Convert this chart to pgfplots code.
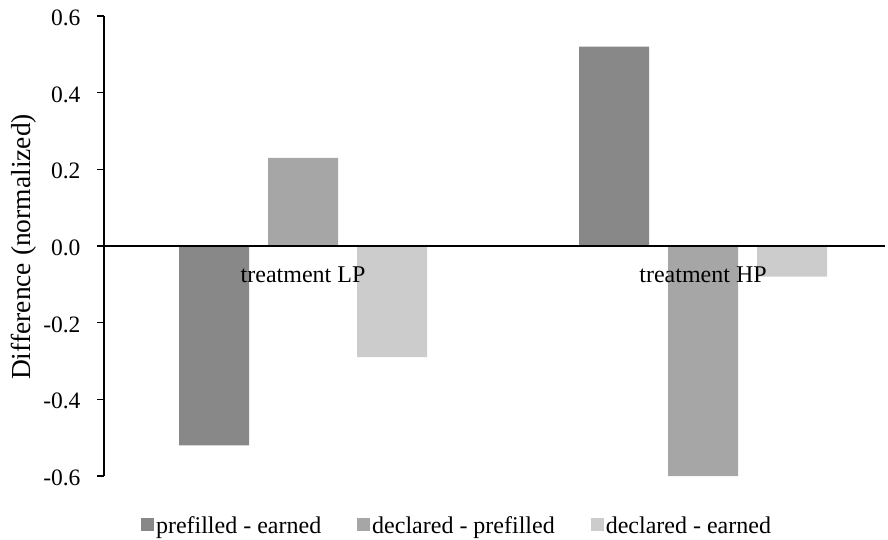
\documentclass[border=0pt]{standalone}
\usepackage{fontspec}
\setmainfont{Liberation Serif}
\usepackage{pgfplots}
\pgfplotsset{compat=1.18}
\definecolor{c1}{RGB}{136,136,136}
\definecolor{c2}{RGB}{166,166,166}
\definecolor{c3}{RGB}{204,204,204}
\begin{document}
\begin{tikzpicture}
\path[use as bounding box] (0,0) rectangle (888pt,539pt);
\begin{axis}[
  at={(104pt,63pt)}, anchor=south west, scale only axis,
  width=781pt, height=460pt,
  xmin=-0.4975, xmax=1.455, ymin=-0.6, ymax=0.6,
  clip=false, axis on top,
  axis y line*=left, axis x line*=middle,
  hide obscured x ticks=false, hide obscured y ticks=false,
  axis line style={black, line width=1.3pt},
  ybar, bar width=0.175,
  xtick={0,1}, xticklabels={treatment LP, treatment HP},
  xtick style={draw=none},
  ytick={-0.6,-0.4,-0.2,0,0.2,0.4,0.6},
  yticklabels={-0.6,-0.4,-0.2,0.0,0.2,0.4,0.6},
  tick align=outside, major tick length=7pt,
  ytick style={black, line width=1.2pt},
  yticklabel style={font=\rmfamily\fontsize{23.5}{28}\selectfont, xshift=-13pt, yshift=-2pt},
  xticklabel style={font=\rmfamily\fontsize{24}{28}\selectfont, anchor=north, yshift=-10pt},
  ylabel={Difference (normalized)},
  ylabel style={font=\fontsize{27.5}{32}\selectfont, at={(axis description cs:-0.1024,0.498)}, anchor=center},
  legend style={at={(axis description cs:0.452,-0.108)}, anchor=center, draw=none,
    inner sep=0pt, nodes={inner sep=2pt},
    font=\fontsize{24}{28}\selectfont, legend columns=3,
    /tikz/every even column/.append style={column sep=34pt}},
  legend image code/.code={\fill[#1] (0pt,-5pt) rectangle (13pt,8pt);},
]
\addplot[draw=none, fill=c1, bar shift=-0.2225] coordinates {(0,-0.52) (1,0.52)};
\addplot[draw=none, fill=c2, bar shift=0] coordinates {(0,0.23) (1,-0.60)};
\addplot[draw=none, fill=c3, bar shift=0.2225] coordinates {(0,-0.29) (1,-0.08)};
\legend{prefilled - earned, declared - prefilled, declared - earned}
\end{axis}
\end{tikzpicture}
\end{document}
